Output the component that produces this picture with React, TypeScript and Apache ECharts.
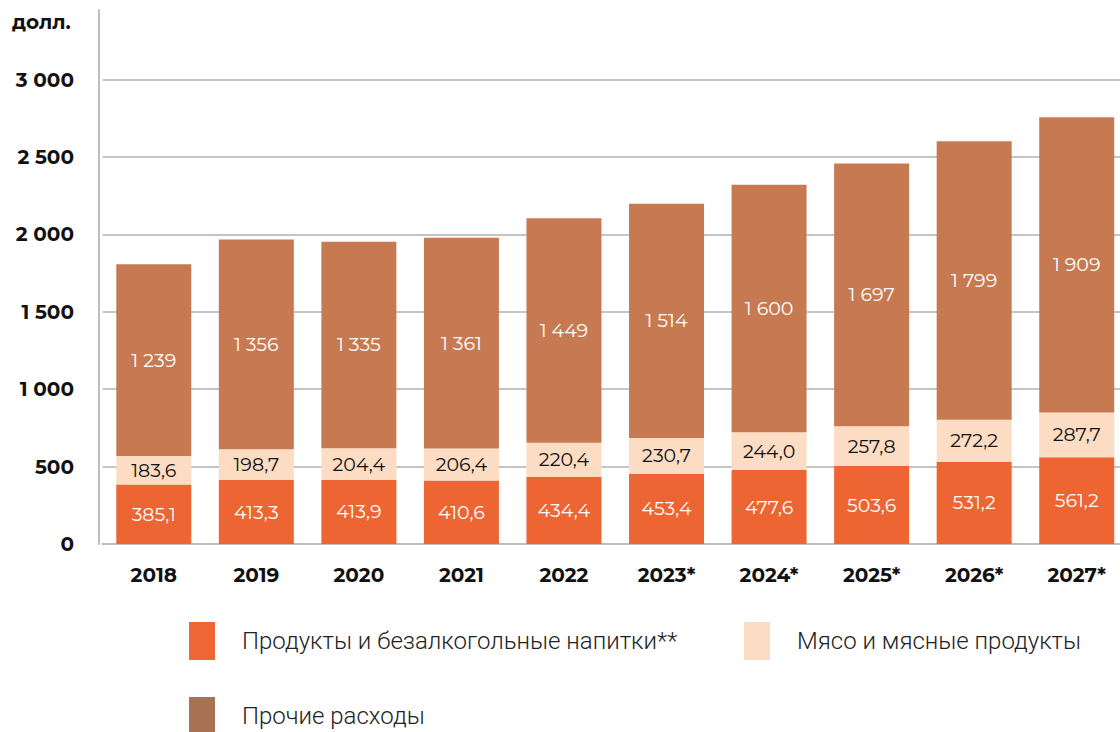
import React, { useEffect, useRef } from "react";
import * as echarts from "echarts";

const categories = ["2018", "2019", "2020", "2021", "2022", "2023*", "2024*", "2025*", "2026*", "2027*"];
const products = [385.1, 413.3, 413.9, 410.6, 434.4, 453.4, 477.6, 503.6, 531.2, 561.2];
const meat = [183.6, 198.7, 204.4, 206.4, 220.4, 230.7, 244.0, 257.8, 272.2, 287.7];
const other = [1239, 1356, 1335, 1361, 1449, 1514, 1600, 1697, 1799, 1909];
const seriesNames = ["Продукты и безалкогольные напитки**", "Мясо и мясные продукты", "Прочие расходы"];
const barColors = ["#EC6532", "#FCDCC3", "#C77A51"];
const legendColors = ["#EE6633", "#FCDCC4", "#A87355"];

const fmtThousands = (v: number) => {
  const s = Math.round(v).toString();
  return s.replace(/\B(?=(\d{3})+(?!\d))/g, " ");
};
const fmtDecimal = (v: number) => v.toFixed(1).replace(".", ",");
const fmtAxis = (v: number) => {
  const s = Math.round(v).toString();
  return s.replace(/\B(?=(\d{3})+(?!\d))/g, " ");
};

const labelFont = "Montserrat, Inter, 'Noto Sans', sans-serif";

export default function App() {
  const ref = useRef<HTMLDivElement>(null);
  useEffect(() => {
    if (!ref.current) return;
    const chart = echarts.init(ref.current, null, { renderer: "svg" });
    const mkLegend = (i: number, left: number, top: number) => ({
      left,
      top,
      padding: 0,
      orient: "horizontal",
      itemWidth: 26,
      itemHeight: 38,
      icon: "rect",
      selectedMode: false,
      data: [{ name: seriesNames[i], itemStyle: { color: legendColors[i] } }],
      textStyle: {
        fontFamily: "Roboto, sans-serif",
        fontSize: 24,
        fontWeight: 300,
        color: "#222",
        padding: [8, 0, 0, 22],
      },
    });
    chart.setOption({
      animation: false,
      grid: { left: 102.5, width: 1025.5, top: 10, height: 534 },
      graphic: [
        {
          type: "text",
          left: 12,
          top: 12,
          style: { text: "долл.", fontSize: 20, fontWeight: "bold", fontFamily: labelFont, fill: "#111" },
        },
      ],
      legend: [mkLegend(0, 189, 622), mkLegend(1, 744, 622), mkLegend(2, 189, 697)],
      xAxis: {
        type: "category",
        data: categories,
        axisLine: { lineStyle: { color: "#BDBDBD", width: 2 } },
        axisTick: { show: false },
        axisLabel: {
          margin: 21,
          fontSize: 20,
          fontWeight: "bold",
          fontFamily: labelFont,
          color: "#111",
        },
      },
      yAxis: {
        type: "value",
        min: 0,
        max: 3450,
        interval: 500,
        offset: 3.5,
        axisLine: { show: true, lineStyle: { color: "#BDBDBD", width: 2 } },
        axisTick: { show: false },
        splitLine: { show: true, showMaxLine: false, lineStyle: { color: "#C4C4C4", width: 2 } },
        axisLabel: {
          showMaxLabel: false,
          margin: 25,
          fontSize: 20,
          fontWeight: "bold",
          fontFamily: labelFont,
          color: "#111",
          formatter: (v: number) => fmtAxis(v),
        },
      },
      series: [
        {
          name: seriesNames[0],
          type: "bar",
          stack: "total",
          barWidth: 75,
          data: products,
          itemStyle: { color: barColors[0] },
          label: {
            show: true,
            position: "inside",
            color: "#fff",
            fontSize: 19,
            fontFamily: labelFont,
            formatter: (p: any) => fmtDecimal(p.value),
          },
        },
        {
          name: seriesNames[1],
          type: "bar",
          stack: "total",
          barWidth: 75,
          data: meat,
          itemStyle: { color: barColors[1] },
          label: {
            show: true,
            position: "inside",
            color: "#111",
            fontSize: 19,
            fontFamily: labelFont,
            formatter: (p: any) => fmtDecimal(p.value),
          },
        },
        {
          name: seriesNames[2],
          type: "bar",
          stack: "total",
          barWidth: 75,
          data: other,
          itemStyle: { color: barColors[2] },
          label: {
            show: true,
            position: "inside",
            color: "#fff",
            fontSize: 19,
            fontFamily: labelFont,
            formatter: (p: any) => fmtThousands(p.value),
          },
        },
      ],
    });
    return () => chart.dispose();
  }, []);
  return (
    <div style={{ position: "absolute", left: 0, top: 0, width: 1120, height: 732, overflow: "hidden" }}>
      <div ref={ref} style={{ width: 1140, height: 732 }} />
    </div>
  );
}
